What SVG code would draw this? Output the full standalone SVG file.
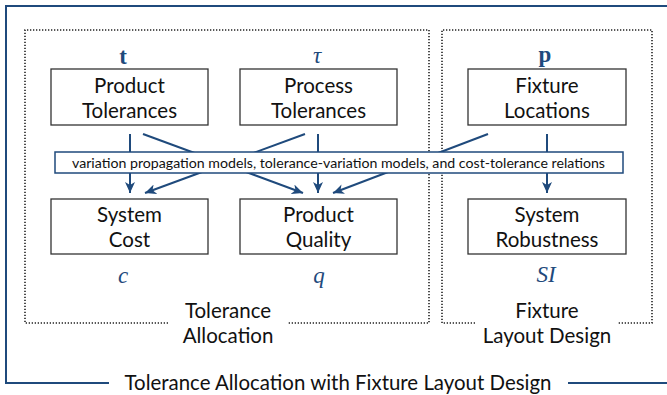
<svg xmlns="http://www.w3.org/2000/svg" width="667" height="395" viewBox="0 0 667 395">
<style>
.frame{fill:none;stroke:#1f4a7c;stroke-width:2}
.dot{fill:none;stroke:#222;stroke-width:1.6;stroke-dasharray:1.3 1.7}
.box{fill:#fff;stroke:#333;stroke-width:1.3}
.band{fill:#fff;stroke:#1f4a7c;stroke-width:1.5}
.lbl{font-family:Lato,"Open Sans","DejaVu Sans",sans-serif;font-size:20.5px;fill:#111;text-anchor:middle}
.small{font-family:Lato,"Open Sans","DejaVu Sans",sans-serif;font-size:13.6px;fill:#111;text-anchor:middle}
.math{font-family:"Liberation Serif","DejaVu Serif",serif;font-size:23px;fill:#1f4a7c;text-anchor:middle}
.conn{fill:none;stroke:#1f4a7c;stroke-width:2}
</style>
<defs>
<marker id="ah" markerUnits="userSpaceOnUse" markerWidth="12" markerHeight="10" refX="11" refY="5" orient="auto">
<path d="M0,0 L11,5 L0,10 L3,5 z" fill="#1f4a7c"/>
</marker>
</defs>
<g id="outer-frame">
<path class="frame" d="M568,383 L672,383 L672,6 L6,6 L6,383 L109,383"/>
<text class="lbl" x="338" y="390" textLength="427" lengthAdjust="spacingAndGlyphs">Tolerance Allocation with Fixture Layout Design</text>
</g>
<g id="tolerance-allocation">
<path class="dot" d="M168,323 L25,323 L25,30 L429,30 L429,323 L288,323"/>
<text class="lbl" x="228" y="318">Tolerance</text>
<text class="lbl" x="228" y="343">Allocation</text>
</g>
<g id="fixture-layout-design">
<path class="dot" d="M475,323 L442,323 L442,30 L652,30 L652,323 L618,323"/>
<text class="lbl" x="547" y="318">Fixture</text>
<text class="lbl" x="547" y="343">Layout Design</text>
</g>
<g id="connectors">
<line class="conn" x1="130" y1="134" x2="130" y2="193" marker-end="url(#ah)"/>
<line class="conn" x1="143" y1="134" x2="303" y2="193" marker-end="url(#ah)"/>
<line class="conn" x1="305" y1="134" x2="145" y2="193" marker-end="url(#ah)"/>
<line class="conn" x1="318" y1="134" x2="318" y2="193" marker-end="url(#ah)"/>
<line class="conn" x1="488" y1="134" x2="333" y2="193" marker-end="url(#ah)"/>
<line class="conn" x1="547" y1="134" x2="547" y2="193" marker-end="url(#ah)"/>
</g>
<g id="relations-band">
<rect class="band" x="55" y="152" width="568" height="21"/>
<text class="small" x="338.5" y="167.5" textLength="533" lengthAdjust="spacingAndGlyphs">variation propagation models, tolerance-variation models, and cost-tolerance relations</text>
</g>
<g id="product-tolerances">
<rect class="box" x="51" y="69" width="157" height="56"/>
<text class="lbl" x="129.5" y="93">Product</text>
<text class="lbl" x="129.5" y="118">Tolerances</text>
<text class="math" x="123" y="64" font-weight="bold">t</text>
</g>
<g id="process-tolerances">
<rect class="box" x="240" y="69" width="157" height="56"/>
<text class="lbl" x="318.5" y="93">Process</text>
<text class="lbl" x="318.5" y="118">Tolerances</text>
<text class="math" x="317" y="63" font-style="italic">τ</text>
</g>
<g id="fixture-locations">
<rect class="box" x="468" y="69" width="158" height="56"/>
<text class="lbl" x="547" y="93">Fixture</text>
<text class="lbl" x="547" y="118">Locations</text>
<text class="math" x="545" y="62" font-weight="bold">p</text>
</g>
<g id="system-cost">
<rect class="box" x="51" y="199" width="157" height="55"/>
<text class="lbl" x="129.5" y="222">System</text>
<text class="lbl" x="129.5" y="247">Cost</text>
<text class="math" x="123" y="283" font-style="italic">c</text>
</g>
<g id="product-quality">
<rect class="box" x="240" y="199" width="157" height="55"/>
<text class="lbl" x="318.5" y="222">Product</text>
<text class="lbl" x="318.5" y="247">Quality</text>
<text class="math" x="319" y="283" font-style="italic">q</text>
</g>
<g id="system-robustness">
<rect class="box" x="468" y="199" width="158" height="55"/>
<text class="lbl" x="547" y="222">System</text>
<text class="lbl" x="547" y="247">Robustness</text>
<text class="math" x="546" y="282" font-style="italic">SI</text>
</g>
</svg>
